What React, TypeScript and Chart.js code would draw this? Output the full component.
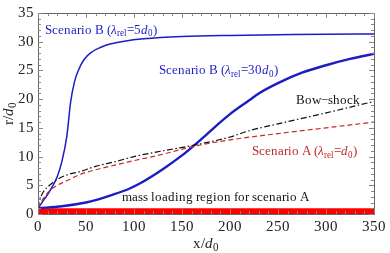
import React, { useEffect, useRef } from "react";
import { Chart, registerables } from "chart.js";

Chart.register(...registerables);

// ---- data ----
const X_B5 = [0, 5, 10, 15, 20, 25, 30, 34, 38, 42, 48, 56, 65, 75, 90, 110, 150, 200, 250, 300, 350];
const Y_B5 = [1, 2.2, 3.4, 4.8, 6.5, 9.2, 13.5, 19.5, 23, 25, 26.9, 28.2, 29, 29.6, 30.1, 30.5, 30.9, 31.1, 31.2, 31.3, 31.35];

const X_B30 = [0, 25, 50, 60, 75, 95, 106, 130, 150, 163, 178, 190, 200, 220, 230, 250, 275, 300, 325, 350];
const Y_B30 = [1, 1.35, 2, 2.4, 3.2, 4.4, 5.3, 7.8, 10.2, 12, 14.2, 16, 17.4, 19.8, 21, 22.8, 24.6, 25.9, 27, 27.9];

const X_BOW = [0, 2, 5, 12, 20, 30, 44, 60, 80, 100, 130, 160, 200, 220, 250, 300, 350];
const Y_BOW = [1, 2.5, 3.7, 5, 6, 6.8, 7.4, 8.3, 9.1, 10, 11, 11.9, 13.4, 14.5, 15.7, 17.6, 19.6];

const X_A = [0, 3, 6, 12, 20, 30, 44, 60, 80, 100, 130, 160, 200, 250, 300, 350];
const Y_A = [1, 2, 2.8, 4, 5, 5.8, 6.9, 7.7, 8.5, 9.3, 10.4, 11.7, 12.9, 14, 15, 16];

const X_BAND = [0, 350];
const Y_BAND = [1, 1];

const X_TICKS = [0, 50, 100, 150, 200, 250, 300, 350];
const Y_TICKS = [0, 5, 10, 15, 20, 25, 30, 35];

const FONT = '"LSerifX", "Liberation Serif", serif';
const BLUE = "#1c1cc4";
const RED_LINE = "#c42a2a";
const RED_TEXT = "#c02626";

type Seg = { t: string; it?: boolean; sub?: boolean };

const LBL_B5: Seg[] = [{ t: "Scenario B (" }, { t: "λ", it: true }, { t: "rel", sub: true }, { t: "=5" }, { t: "d", it: true }, { t: "0", sub: true }, { t: ")" }];
const LBL_B30: Seg[] = [{ t: "Scenario B (" }, { t: "λ", it: true }, { t: "rel", sub: true }, { t: "=30" }, { t: "d", it: true }, { t: "0", sub: true }, { t: ")" }];
const LBL_BOW: Seg[] = [{ t: "Bow−shock" }];
const LBL_A: Seg[] = [{ t: "Scenario A (" }, { t: "λ", it: true }, { t: "rel", sub: true }, { t: "=" }, { t: "d", it: true }, { t: "0", sub: true }, { t: ")" }];
const LBL_ML: Seg[] = [{ t: "mass loading region for scenario A" }];
const LBL_X: Seg[] = [{ t: "x/" }, { t: "d", it: true }, { t: "0", sub: true }];
const LBL_Y: Seg[] = [{ t: "r/" }, { t: "d", it: true }, { t: "0", sub: true }];

// annotation anchors (data coords, left edge / vertical centre)
const ANNOTATIONS: { segs: Seg[]; x: number; y: number; color: string }[] = [
  { segs: LBL_B5, x: 7.3, y: 32, color: BLUE },
  { segs: LBL_B30, x: 125.6, y: 24.9, color: BLUE },
  { segs: LBL_BOW, x: 269, y: 19.8, color: "#111" },
  { segs: LBL_A, x: 223, y: 10.8, color: RED_TEXT },
  { segs: LBL_ML, x: 88, y: 2.9, color: "#111" },
];

const FACE_CSS =
  '@font-face { font-family: "LSerifX"; font-style: normal; src: local("Liberation Serif"), local("LiberationSerif"), local("LiberationSerif-Regular"); }\n' +
  '@font-face { font-family: "LSerifX"; font-style: italic; src: local("Liberation Serif Italic"), local("LiberationSerif-Italic"); }';

function segFont(s: Seg, size: number) {
  const sz = s.sub ? Math.round(size * 0.7) : size;
  return `${s.it ? "italic " : ""}${sz}px ${FONT}`;
}

function richWidth(ctx: CanvasRenderingContext2D, segs: Seg[], size: number) {
  let w = 0;
  for (const s of segs) {
    ctx.font = segFont(s, size);
    w += ctx.measureText(s.t).width;
  }
  return w;
}

function drawRich(ctx: CanvasRenderingContext2D, segs: Seg[], x: number, y: number, size: number, color: string, align: "left" | "center") {
  ctx.save();
  ctx.fillStyle = color;
  ctx.textBaseline = "middle";
  ctx.textAlign = "left";
  let cx = align === "center" ? x - richWidth(ctx, segs, size) / 2 : x;
  for (const s of segs) {
    ctx.font = segFont(s, size);
    ctx.fillText(s.t, cx, s.sub ? y + size * 0.3 : y);
    cx += ctx.measureText(s.t).width;
  }
  ctx.restore();
}

function pts(xs: number[], ys: number[]) {
  return xs.map((x, i) => ({ x, y: ys[i] }));
}

const framePlugin = {
  id: "frameTicks",
  afterDraw(chart: any) {
    const { ctx, chartArea: a, scales } = chart;
    const xs = scales.x, ys = scales.y;
    ctx.save();
    ctx.strokeStyle = "#666";
    ctx.lineWidth = 1;
    ctx.strokeRect(Math.round(a.left) + 0.5, Math.round(a.top) + 0.5, Math.round(a.right - a.left), Math.round(a.bottom - a.top));
    ctx.strokeStyle = "#888";
    ctx.beginPath();
    for (let v = 0; v <= 350; v += 10) {
      const p = Math.round(xs.getPixelForValue(v)) + 0.5;
      const L = v % 50 === 0 ? 5 : 3;
      ctx.moveTo(p, a.bottom); ctx.lineTo(p, a.bottom - L);
      ctx.moveTo(p, a.top); ctx.lineTo(p, a.top + L);
    }
    for (let v = 0; v <= 35; v += 1) {
      const p = Math.round(ys.getPixelForValue(v)) + 0.5;
      const L = v % 5 === 0 ? 5 : 3;
      ctx.moveTo(a.left, p); ctx.lineTo(a.left + L, p);
      ctx.moveTo(a.right, p); ctx.lineTo(a.right - L, p);
    }
    ctx.stroke();
    ctx.restore();

    for (const an of ANNOTATIONS) {
      drawRich(ctx, an.segs, xs.getPixelForValue(an.x), ys.getPixelForValue(an.y), 13, an.color, "left");
    }
    // axis titles
    drawRich(ctx, LBL_X, (a.left + a.right) / 2, a.bottom + 30, 15, "#222", "center");
    ctx.save();
    ctx.translate(9, (a.top + a.bottom) / 2);
    ctx.rotate(-Math.PI / 2);
    drawRich(ctx, LBL_Y, 0, 0, 15, "#222", "center");
    ctx.restore();
  },
};

export default function App() {
  const ref = useRef<HTMLCanvasElement>(null);
  useEffect(() => {
    let chart: any = null;
    let cancelled = false;
    const st = document.createElement("style");
    st.textContent = FACE_CSS;
    document.head.appendChild(st);
    const make = () => {
      if (cancelled || !ref.current || chart) return;
      chart = new Chart(ref.current, {
        type: "line",
        data: {
          datasets: [
            { data: pts(X_BAND, Y_BAND), borderWidth: 0, borderColor: "rgba(0,0,0,0)", backgroundColor: "#ff0000", fill: "origin", pointRadius: 0, order: 5 },
            { data: pts(X_A, Y_A), borderColor: RED_LINE, borderWidth: 1.2, borderDash: [5, 3], pointRadius: 0, fill: false, cubicInterpolationMode: "monotone" },
            { data: pts(X_BOW, Y_BOW), borderColor: "#111", borderWidth: 1.2, borderDash: [6, 2.5, 1.5, 2.5], pointRadius: 0, fill: false, cubicInterpolationMode: "monotone" },
            { data: pts(X_B30, Y_B30), borderColor: BLUE, borderWidth: 2.4, pointRadius: 0, fill: false, cubicInterpolationMode: "monotone" },
            { data: pts(X_B5, Y_B5), borderColor: BLUE, borderWidth: 1.5, pointRadius: 0, fill: false, cubicInterpolationMode: "monotone" },
          ] as any,
        },
        options: {
          animation: false,
          responsive: false,
          layout: { padding: { top: 7, right: 15, left: 0, bottom: 0 } },
          plugins: { legend: { display: false }, tooltip: { enabled: false } },
          scales: {
            x: {
              type: "linear", min: 0, max: 350,
              afterBuildTicks: (s: any) => { s.ticks = X_TICKS.map((v) => ({ value: v })); },
              afterFit: (s: any) => { s.height = 39; },
              grid: { display: false, drawTicks: false },
              border: { display: false },
              ticks: { padding: 4, color: "#222", font: { family: FONT, size: 15 }, maxRotation: 0 },
            },
            y: {
              type: "linear", min: 0, max: 35,
              afterBuildTicks: (s: any) => { s.ticks = Y_TICKS.map((v) => ({ value: v })); },
              afterFit: (s: any) => { s.width = 38; },
              grid: { display: false, drawTicks: false },
              border: { display: false },
              ticks: { padding: 4, color: "#222", font: { family: FONT, size: 15 } },
            },
          },
        },
        plugins: [framePlugin],
      });
    };
    const fonts: any = (document as any).fonts;
    const go = () => setTimeout(make, 30);
    Promise.all([
      fonts.load('14px "LSerifX"'),
      fonts.load('italic 14px "LSerifX"'),
    ]).then(go, go);
    return () => {
      cancelled = true;
      if (chart) chart.destroy();
      st.remove();
    };
  }, []);
  return (
    <div style={{ position: "absolute", left: 0, top: 0, width: 390, height: 253, background: "#fff" }}>
      <span style={{ position: "absolute", visibility: "hidden", fontFamily: FONT }}>
        x <i>d</i>
      </span>
      <canvas ref={ref} width={390} height={253} style={{ position: "absolute", left: 0, top: 0 }} />
    </div>
  );
}
